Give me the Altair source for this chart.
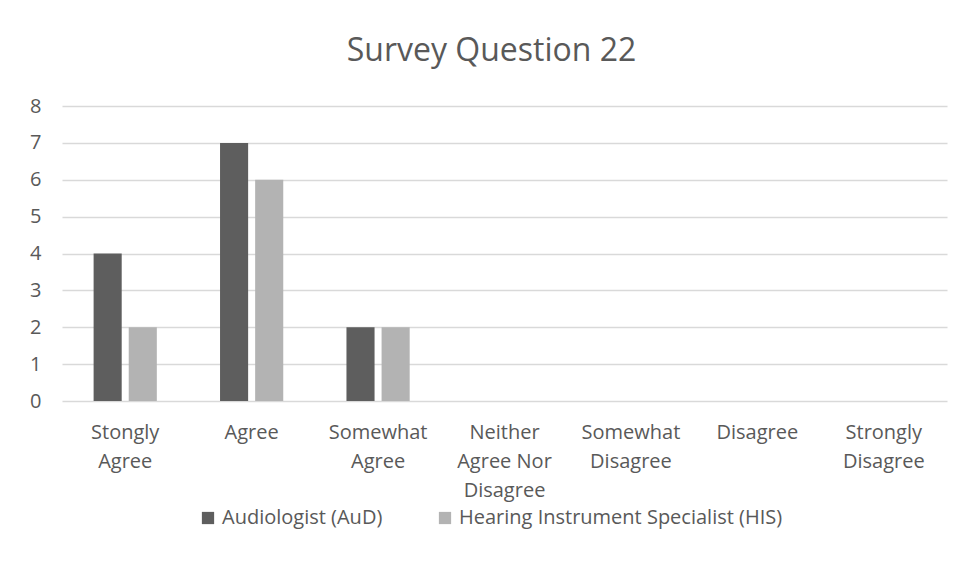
import altair as alt
import pandas as pd

# Response categories ("|" marks a line break in the axis label)
categories = [
    "Stongly|Agree",
    "Agree",
    "Somewhat|Agree",
    "Neither|Agree Nor|Disagree",
    "Somewhat|Disagree",
    "Disagree",
    "Strongly|Disagree",
]
groups = ["Audiologist (AuD)", "Hearing Instrument Specialist (HIS)"]
aud_counts = [4, 7, 2, 0, 0, 0, 0]
his_counts = [2, 6, 2, 0, 0, 0, 0]
y_ticks = [0, 1, 2, 3, 4, 5, 6, 7, 8]

rows = []
for cat, a, h in zip(categories, aud_counts, his_counts):
    rows.append({"Response": cat, "Group": groups[0], "Count": a})
    rows.append({"Response": cat, "Group": groups[1], "Count": h})
df = pd.DataFrame(rows)

FONT = "Open Sans"
TEXT = "#595959"

chart = (
    alt.Chart(df)
    .mark_bar()
    .encode(
        x=alt.X(
            "Response:N",
            sort=categories,
            title=None,
            scale=alt.Scale(paddingInner=0.5, paddingOuter=0.25),
            axis=alt.Axis(
                labelExpr="split(datum.label, '|')",
                labelAngle=0,
                labelPadding=21,
                labelLineHeight=29,
                labelBaseline="top",
                domain=False,
                ticks=False,
                grid=False,
            ),
        ),
        xOffset=alt.XOffset(
            "Group:N", sort=groups, scale=alt.Scale(paddingInner=0.2)
        ),
        y=alt.Y(
            "Count:Q",
            title=None,
            scale=alt.Scale(domain=[0, 8]),
            axis=alt.Axis(
                values=y_ticks,
                domain=False,
                ticks=False,
                labelPadding=21,
                gridColor="#d9d9d9",
                gridWidth=1.5,
            ),
        ),
        color=alt.Color(
            "Group:N",
            sort=groups,
            scale=alt.Scale(domain=groups, range=["#5e5e5e", "#b3b3b3"]),
            legend=alt.Legend(
                title=None,
                orient="none",
                direction="horizontal",
                legendX=136,
                legendY=402,
                symbolType="square",
                symbolSize=150,
                symbolStrokeWidth=0,
                columnPadding=52,
                labelOffset=4,
                labelLimit=0,
            ),
        ),
    )
    .properties(
        width=885,
        height=295,
        autosize=alt.AutoSizeParams(type="none"),
        padding={"left": 62, "top": 106, "right": 11, "bottom": 178},
        title=alt.TitleParams(
            "Survey Question 22",
            fontSize=32,
            font=FONT,
            fontWeight="normal",
            color=TEXT,
            anchor="middle",
            dx=-13,
            offset=28,
        ),
    )
    .configure(background="white")
    .configure_view(stroke=None)
    .configure_axis(labelFont=FONT, labelFontSize=20, labelColor=TEXT)
    .configure_legend(labelFont=FONT, labelFontSize=20, labelColor=TEXT)
)

chart.save("out.html", embed_options={"renderer": "svg", "actions": False})
